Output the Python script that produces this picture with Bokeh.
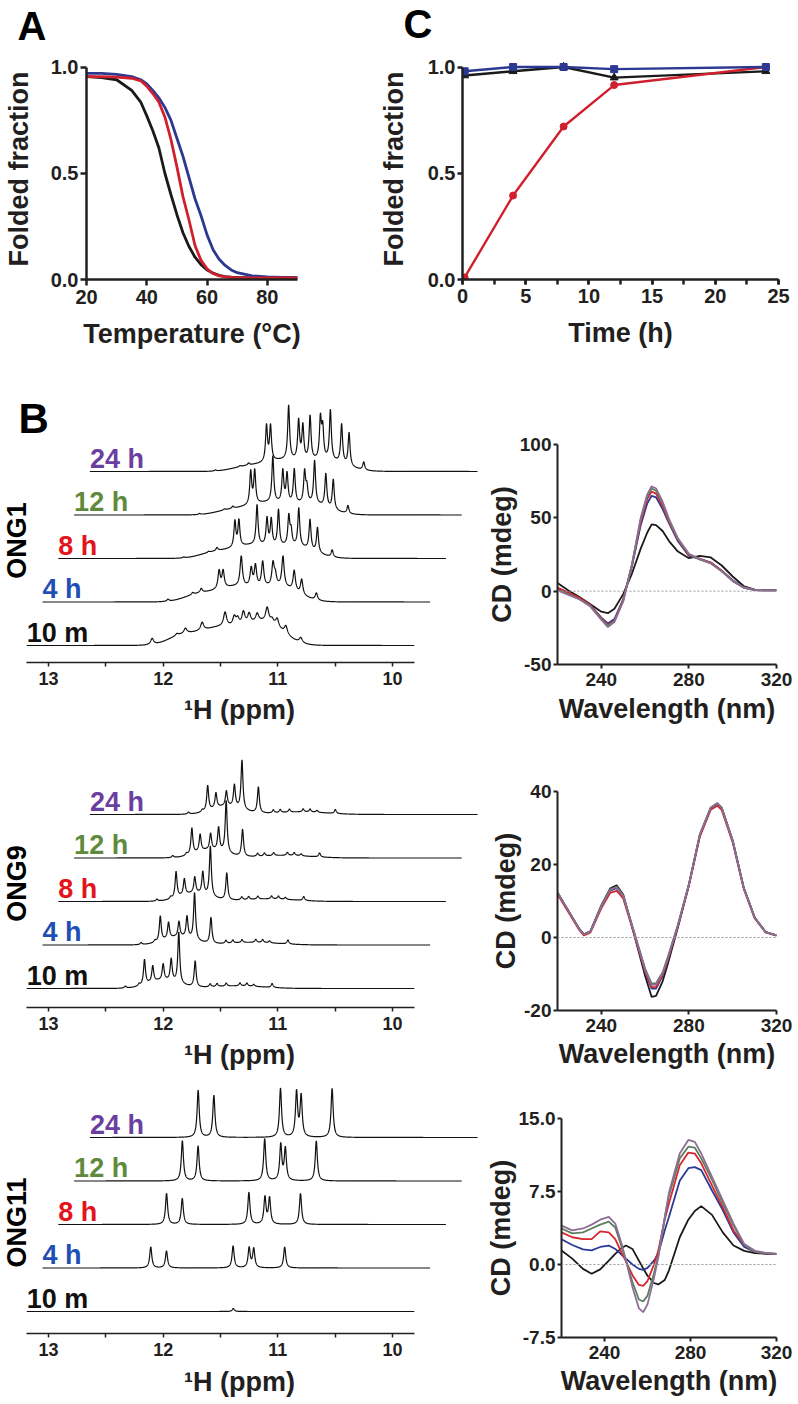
import numpy as np
from bokeh.plotting import figure
from bokeh.models import Range1d, FixedTicker, SingleIntervalTicker, Label, Span, NumeralTickFormatter
from bokeh.layouts import column, row
from bokeh.embed import file_html
from bokeh.resources import INLINE

FONT = "Liberation Sans"
INK = "#231f20"

# ---------------- Panel A: thermal melting (folded fraction) ----------------
temperature_c = [20, 25, 30, 35, 38, 40, 42, 44, 46, 48, 50, 52, 54, 56, 58, 60, 62, 64, 66, 68, 70, 75, 80, 85, 90]
melt_black = [0.955, 0.950, 0.940, 0.890, 0.835, 0.770, 0.700, 0.620, 0.500, 0.400, 0.305, 0.220, 0.155, 0.105, 0.070, 0.045, 0.030, 0.020, 0.014, 0.011, 0.010, 0.008, 0.007, 0.007, 0.007]
melt_red = [0.955, 0.955, 0.952, 0.947, 0.935, 0.910, 0.875, 0.835, 0.765, 0.660, 0.530, 0.390, 0.280, 0.160, 0.090, 0.050, 0.028, 0.017, 0.012, 0.010, 0.009, 0.008, 0.008, 0.008, 0.008]
melt_blue = [0.970, 0.970, 0.965, 0.955, 0.940, 0.920, 0.890, 0.855, 0.810, 0.750, 0.665, 0.580, 0.480, 0.380, 0.300, 0.210, 0.140, 0.095, 0.066, 0.045, 0.032, 0.017, 0.012, 0.010, 0.010]

# ---------------- Panel C: folding kinetics ----------------
time_h = [0.17, 4, 8, 12, 24]
frac_black = [0.96, 0.98, 1.00, 0.95, 0.98]
frac_blue = [0.98, 1.00, 1.00, 0.99, 1.00]
frac_red = [0.01, 0.395, 0.72, 0.915, 1.00]

# ---------------- Panel B: 1H NMR imino region (peak lists, true ppm) ----------------
time_labels = ["10 m", "4 h", "8 h", "12 h", "24 h"]
time_colors = ["#111111", "#1f4fb4", "#e3141c", "#5f8a3c", "#6b3fa0"]

ong1_10m_ppm = [12.096, 11.880, 11.806, 11.660, 11.460, 11.380, 11.350, 11.300, 11.250, 11.180, 11.093, 11.050, 11.006, 10.930, 10.800]
ong1_10m_amp = [6, 2, 5, 8, 14, 9, 7, 13, 10, 8, 14, 4, 8, 8, 5]
ong1_ppm = [12.096, 11.880, 11.806, 11.650, 11.615, 11.457, 11.370, 11.333, 11.270, 11.180, 11.160, 11.093, 10.995, 10.930, 10.802]
ong1_4h = [2, 2, 4, 18, 17, 30, 18, 21, 25, 22, 10, 30, 20, 15, 7]
ong1_8h = [1, 1, 3, 26, 26, 40, 27, 26, 36, 29, 14, 38, 30, 25, 7]
ong1_12h = [1, 1, 2, 33, 33, 46, 32, 29, 34, 31, 15, 43, 33, 30, 8]
ong1_24h = [1, 1, 2, 36, 35, 54, 39, 34, 44, 40, 30, 50, 39, 33, 8]
ong1_linewidth = [0.016, 0.012, 0.010, 0.010, 0.010]
ong1_hump_ppm = [11.85, 11.50, 11.10]
ong1_hump_sd = [0.12, 0.20, 0.15]
ong1_hump_10m = [7, 18, 21]
ong1_hump_4h = [5, 15, 13]
ong1_hump_8h = [4, 13, 10]
ong1_hump_12h = [3, 12, 9]
ong1_hump_24h = [3, 11, 9]

ong9_ppm = [12.33, 12.21, 12.163, 12.091, 12.000, 11.930, 11.864, 11.721, 11.59, 11.53, 11.45, 11.33, 11.27, 11.21, 11.05]
ong9_10m = [2, 2, 25, 16, 16, 22, 51, 26, 3, 3, 3, 3, 3, 2, 4]
ong9_4h = [2, 2, 25, 16, 15, 21, 47, 26, 3, 3, 3, 3, 3, 2, 4]
ong9_8h = [2, 2, 26, 16, 16, 22, 50, 27, 3, 3, 3, 3, 3, 2, 4]
ong9_12h = [2, 2, 26, 17, 16, 23, 52, 27, 3, 3, 3, 3, 3, 2, 4]
ong9_24h = [2, 2, 25, 15, 15, 22, 49, 26, 3, 3, 3, 3, 3, 2, 4]
ong9_hump_ppm = [12.00, 11.35]
ong9_hump_sd = [0.13, 0.22]
ong9_hump_height = [8, 2.5]

ong11_ppm = [12.246, 12.109, 11.528, 11.388, 11.348, 11.078]
ong11_10m = [0, 0, 0, 3, 0, 0]
ong11_4h = [21, 17, 22, 20, 19, 21]
ong11_8h = [31, 26, 32, 27, 26, 31]
ong11_12h = [40, 35, 42, 36, 32, 40]
ong11_24h = [47, 42, 49, 45, 41, 49]

# ---------------- CD spectra ----------------
cd1_nm = [220, 225, 230, 235, 240, 243, 246, 250, 254, 258, 261, 263, 265, 268, 271, 275, 280, 285, 290, 295, 300, 305, 310, 315, 320]
cd1_10m = [5.5, 0.5, -4, -9, -14, -15, -12, -2, 12, 29, 40, 45.5, 45, 41, 34, 27, 22.5, 24, 23, 17.5, 10, 3.5, 1, 0.7, 0.7]
cd1_4h = [2, -1.5, -5, -9.5, -18, -22, -19, -5.5, 17, 45, 60, 65, 64, 56, 46, 34, 24, 22, 19.5, 14, 7.5, 2.5, 0.8, 0.5, 0.5]
cd1_8h = [2.5, -1, -4.5, -9.5, -18.5, -23, -20, -6, 18, 47, 63, 68, 66.5, 58, 47, 35, 24.5, 22, 19.5, 14, 7, 2.5, 0.8, 0.5, 0.5]
cd1_12h = [1, -2, -5.5, -10, -19, -23.5, -20.5, -6.5, 18, 49, 65, 70, 68.5, 60, 48, 35.5, 25, 21.5, 19, 13.5, 7, 2.5, 0.8, 0.5, 0.5]
cd1_24h = [0.5, -2.5, -5.5, -10.5, -19.5, -24.5, -21, -7, 18, 50, 66, 71.5, 70, 61, 49, 36, 25.5, 22, 19, 13.5, 7, 2.5, 0.8, 0.5, 0.5]

cd2_nm = [220, 225, 230, 232, 235, 240, 244, 247, 250, 255, 260, 263, 265, 268, 270, 275, 280, 285, 290, 293, 295, 300, 305, 310, 315, 320]
cd2_10m = [12.3, 7.3, 2.3, 0.9, 1.7, 8.8, 13.4, 14.3, 11.8, 0.8, -10.5, -16.3, -16.0, -12.0, -8.0, 2.8, 14.3, 28.0, 35.5, 36.7, 35.5, 26.5, 13.7, 5.5, 1.5, 0.6]
cd2_4h = [12.3, 7.3, 2.3, 0.9, 1.6, 8.5, 12.8, 13.5, 11.3, 1.2, -9.5, -14.0, -14.0, -10.5, -7.0, 3.2, 14.5, 28.0, 35.5, 36.6, 35.4, 26.5, 13.7, 5.5, 1.5, 0.6]
cd2_8h = [11.8, 6.9, 2.0, 0.6, 1.3, 8.0, 12.2, 12.8, 10.7, 0.9, -9.3, -13.6, -13.5, -10.2, -6.8, 3.2, 14.2, 27.6, 35.0, 36.1, 34.9, 26.0, 13.4, 5.3, 1.4, 0.5]
cd2_12h = [12.3, 7.3, 2.3, 0.9, 1.6, 8.5, 13.0, 13.9, 11.5, 1.5, -8.5, -12.6, -12.5, -9.5, -6.0, 3.5, 14.6, 28.3, 35.6, 36.8, 35.5, 26.5, 13.7, 5.5, 1.5, 0.6]
cd2_24h = [12.3, 7.3, 2.3, 0.9, 1.6, 8.6, 13.1, 13.8, 11.4, 1.3, -8.8, -13.0, -12.9, -9.8, -6.3, 3.4, 14.5, 28.2, 35.6, 36.8, 35.5, 26.5, 13.7, 5.5, 1.5, 0.6]

cd3_nm = [220, 225, 230, 234, 238, 242, 245, 248, 250, 253, 256, 258, 260, 263, 265, 268, 270, 275, 279, 282, 285, 290, 295, 300, 305, 310, 315, 320]
cd3_10m = [1.45, 0.6, -0.45, -0.95, -0.5, 0.4, 1.1, 1.7, 1.95, 1.6, 0.4, -0.4, -1.15, -1.9, -2.05, -1.6, -0.6, 2.8, 4.6, 5.5, 6.0, 5.1, 3.3, 1.95, 1.4, 1.17, 1.1, 1.1]
cd3_4h = [2.6, 2.0, 1.55, 1.45, 1.8, 1.95, 1.6, 1.0, 0.6, 0.0, -0.45, -0.55, -0.35, 0.4, 1.1, 3.5, 4.9, 8.6, 9.9, 10.0, 9.7, 7.6, 5.6, 3.3, 1.8, 1.3, 1.15, 1.1]
cd3_8h = [3.3, 2.8, 2.6, 2.6, 3.4, 3.3, 2.6, 1.2, 0.3, -1.1, -2.1, -2.2, -1.7, 0.0, 1.4, 4.6, 6.3, 10.2, 11.5, 11.4, 10.4, 8.1, 5.9, 3.5, 2.0, 1.3, 1.15, 1.1]
cd3_12h = [3.7, 3.2, 3.3, 3.7, 4.1, 4.4, 3.8, 1.8, 0.4, -1.8, -3.6, -3.8, -3.2, -0.9, 0.9, 4.8, 7.1, 10.9, 12.1, 12.0, 10.9, 8.7, 6.3, 4.0, 2.0, 1.3, 1.15, 1.1]
cd3_24h = [4.0, 3.5, 3.7, 4.1, 4.6, 4.9, 4.2, 2.1, 0.4, -2.3, -4.5, -4.9, -4.1, -1.4, 0.7, 4.8, 7.4, 11.4, 12.8, 12.6, 11.4, 9.0, 6.6, 4.2, 2.1, 1.4, 1.2, 1.1]

cd_colors = ["#1a1a1a", "#2b3a95", "#d7262e", "#5b7f5c", "#8c6d94"]
curve_black, curve_red, curve_blue = "#1a1a1a", "#d0202e", "#2b3990"


# ---------------- helpers ----------------
def new_fig(width, height, x_range, y_range, left, right, top, bottom, x_axis=True, y_axis=True):
    p = figure(width=width, height=height, x_range=x_range, y_range=y_range,
               output_backend="svg", toolbar_location=None, title=None,
               min_border_left=left, min_border_right=right,
               min_border_top=top, min_border_bottom=bottom,
               x_axis_location="below" if x_axis else None,
               y_axis_location="left" if y_axis else None)
    p.frame_align = False
    p.outline_line_color = None
    p.grid.visible = False
    p.background_fill_color = "white"
    p.border_fill_color = "white"
    return p


def style_axis(ax, lw=2.5, fs="20px", tick_out=5, standoff=3, label_standoff=10):
    ax.axis_line_width = lw
    ax.axis_line_color = INK
    ax.major_tick_line_width = lw
    ax.major_tick_line_color = INK
    ax.minor_tick_line_width = lw
    ax.minor_tick_line_color = INK
    ax.major_tick_in = 0
    ax.minor_tick_in = 0
    ax.major_tick_out = tick_out
    ax.minor_tick_out = tick_out
    ax.major_label_standoff = standoff
    ax.major_label_text_font = FONT
    ax.major_label_text_font_style = "bold"
    ax.major_label_text_font_size = fs
    ax.major_label_text_color = INK
    ax.axis_label_text_font = FONT
    ax.axis_label_text_font_style = "bold"
    ax.axis_label_text_font_size = "27px"
    ax.axis_label_text_color = INK
    ax.axis_label_standoff = label_standoff


def text_at(p, x, y, text, size, color="black", align="left", angle=0.0):
    p.add_layout(Label(x=x, y=y, text=text, angle=angle, text_font=FONT, text_font_style="bold",
                       text_font_size=size, text_color=color, text_align=align,
                       text_baseline="middle"))


# ---------------- panel letters strip (pixels measured from the strip bottom) ----------------
HDR_H = 50
hdr = new_fig(798, HDR_H, Range1d(0, 798), Range1d(0, HDR_H), 0, 0, 0, 0, x_axis=False, y_axis=False)
text_at(hdr, 17, HDR_H - 25, "A", "40px")
text_at(hdr, 403, HDR_H - 23, "C", "40px")

# ---------------- Panel A ----------------
pa = new_fig(375, 372 - HDR_H, Range1d(20, 90), Range1d(0, 1.04), 83, 78, 58 - HDR_H, 93)
pa.line(temperature_c, melt_black, line_color=curve_black, line_width=2.8)
pa.line(temperature_c, melt_blue, line_color=curve_blue, line_width=2.8)
pa.line(temperature_c, melt_red, line_color=curve_red, line_width=2.8)
style_axis(pa.xaxis[0], tick_out=6, standoff=4, label_standoff=12)
style_axis(pa.yaxis[0], tick_out=6, standoff=2, label_standoff=14)
pa.xaxis.ticker = FixedTicker(ticks=[20, 40, 60, 80])
pa.yaxis.ticker = FixedTicker(ticks=[0, 0.5, 1.0])
pa.yaxis.formatter = NumeralTickFormatter(format="0.0")
pa.yaxis.bounds = (0, 1)
pa.xaxis.axis_label = "Temperature (°C)"
pa.yaxis.axis_label = "Folded fraction"

# ---------------- Panel C ----------------
pc = new_fig(423, 372 - HDR_H, Range1d(0, 25), Range1d(0, 1.04), 84, 20, 58 - HDR_H, 93)
pc.line(time_h, frac_black, line_color=curve_black, line_width=2.4)
pc.scatter(time_h, frac_black, marker="triangle", size=8, color=curve_black)
pc.line(time_h, frac_red, line_color=curve_red, line_width=2.4)
pc.scatter(time_h, frac_red, marker="circle", size=7, color=curve_red)
pc.line(time_h, frac_blue, line_color=curve_blue, line_width=2.4)
pc.scatter(time_h, frac_blue, marker="square", size=7, color=curve_blue)
style_axis(pc.xaxis[0], tick_out=5, standoff=4, label_standoff=12)
style_axis(pc.yaxis[0], tick_out=5, standoff=2, label_standoff=16)
pc.xaxis.ticker = SingleIntervalTicker(interval=5, num_minor_ticks=2)
pc.yaxis.ticker = FixedTicker(ticks=[0, 0.5, 1.0])
pc.yaxis.formatter = NumeralTickFormatter(format="0.0")
pc.yaxis.bounds = (0, 1)
pc.xaxis.axis_label = "Time (h)"
pc.yaxis.axis_label = "Folded fraction"

# ---------------- NMR panels ----------------
PX_PER_PPM = 114.67
AX_LEFT, AX_RIGHT = 13.19, 9.81
SKEW = 0.1378      # horizontal stacking offset per trace (ppm)
STEP = 43.5        # vertical stacking offset per trace (px)
NMR_W, NMR_FRAME_W = 482, 478
X_LEFT = 13.0 + 48 / PX_PER_PPM
X_RIGHT = X_LEFT - NMR_FRAME_W / PX_PER_PPM
grid = np.linspace(AX_LEFT, AX_RIGHT, 2400)


def trace(peaks, amps, gamma, hump_c, hump_s, hump_h):
    y = np.zeros_like(grid)
    for c, a in zip(peaks, amps):
        y += a / (1.0 + ((grid - c) / gamma) ** 2)
    for c, s, h in zip(hump_c, hump_s, hump_h):
        y += h * np.exp(-0.5 * ((grid - c) / s) ** 2)
    return y


def nmr_fig(name, frame_h, bottom, base0, traces, name_y, xl_standoff, with_b=False):
    p = new_fig(NMR_W, frame_h + bottom, Range1d(X_LEFT, X_RIGHT), Range1d(0, frame_h),
                0, NMR_W - NMR_FRAME_W, 0, bottom, y_axis=False)
    for k, y in enumerate(traces):
        p.line(grid - k * SKEW, base0 + k * STEP + y, line_color="#111111", line_width=1.2)
        text_at(p, AX_LEFT - k * SKEW, base0 + k * STEP + 13, time_labels[k], "27px",
                color=time_colors[k])
    text_at(p, X_LEFT - 16 / PX_PER_PPM, name_y, name, "27px", align="center", angle=np.pi / 2)
    if with_b:
        text_at(p, X_LEFT - 18 / PX_PER_PPM, 244, "B", "42px")
    style_axis(p.xaxis[0], lw=1.5, fs="18px", tick_out=4, standoff=5, label_standoff=xl_standoff)
    p.xaxis.ticker = FixedTicker(ticks=[10, 11, 12, 13], minor_ticks=[10.5, 11.5, 12.5])
    p.xaxis.bounds = (AX_RIGHT, AX_LEFT)
    p.xaxis.axis_label = "\u00b9H (ppm)"
    return p


ong1_tables = [ong1_4h, ong1_8h, ong1_12h, ong1_24h]
ong1_humps = [ong1_hump_4h, ong1_hump_8h, ong1_hump_12h, ong1_hump_24h]
tr1 = [trace(ong1_10m_ppm, ong1_10m_amp, ong1_linewidth[0], ong1_hump_ppm, ong1_hump_sd, ong1_hump_10m)]
for i, (amp, hump) in enumerate(zip(ong1_tables, ong1_humps)):
    tr1.append(trace(ong1_ppm, amp, ong1_linewidth[i + 1], ong1_hump_ppm, ong1_hump_sd, hump))

tr9 = [trace(ong9_ppm, a, 0.010, ong9_hump_ppm, ong9_hump_sd, ong9_hump_height)
       for a in [ong9_10m, ong9_4h, ong9_8h, ong9_12h, ong9_24h]]
tr11 = [trace(ong11_ppm, a, 0.011, [], [], [])
        for a in [ong11_10m, ong11_4h, ong11_8h, ong11_12h, ong11_24h]]

n1 = nmr_fig("ONG1", 290, 68, 17, tr1, 122, 7, with_b=True)
n2 = nmr_fig("ONG9", 277, 69, 19, tr9, 124, 7)
n3 = nmr_fig("ONG11", 257, 69, 22, tr11, 111, 8)


# ---------------- CD panels ----------------
def cd_fig(height, top, bottom, yr, yticks, nm, series, fmt, xl_standoff):
    p = new_fig(316, height, Range1d(220, 320), Range1d(*yr), 75, 22, top, bottom)
    p.add_layout(Span(location=0, dimension="width", line_color="#9a9a9a",
                      line_width=1, line_dash="2 2"))
    for vals, col in zip(series, cd_colors):
        p.line(nm, vals, line_color=col, line_width=1.8)
    style_axis(p.xaxis[0], lw=2, fs="19px", tick_out=4, standoff=4, label_standoff=xl_standoff)
    style_axis(p.yaxis[0], lw=2, fs="19px", tick_out=4, standoff=2, label_standoff=0)
    p.xaxis.ticker = FixedTicker(ticks=[240, 280, 320])
    p.yaxis.ticker = FixedTicker(ticks=yticks)
    p.yaxis.formatter = NumeralTickFormatter(format=fmt)
    p.xaxis.axis_label = "Wavelength (nm)"
    p.yaxis.axis_label = "CD (mdeg)"
    return p


c1 = cd_fig(358, 72, 66, (-50, 100), [-50, 0, 50, 100], cd1_nm,
            [cd1_10m, cd1_4h, cd1_8h, cd1_12h, cd1_24h], "0", 5)
c2 = cd_fig(346, 61, 66, (-20, 40), [-20, 0, 20, 40], cd2_nm,
            [cd2_10m, cd2_4h, cd2_8h, cd2_12h, cd2_24h], "0", 4)
c3 = cd_fig(326, 42, 65, (-7.5, 15), [-7.5, 0, 7.5, 15], cd3_nm,
            [cd3_10m, cd3_4h, cd3_8h, cd3_12h, cd3_24h], "0.0", 4)

layout = column(hdr, row(pa, pc), row(n1, c1), row(n2, c2), row(n3, c3))
open("out.html", "w").write(file_html(layout, INLINE))
